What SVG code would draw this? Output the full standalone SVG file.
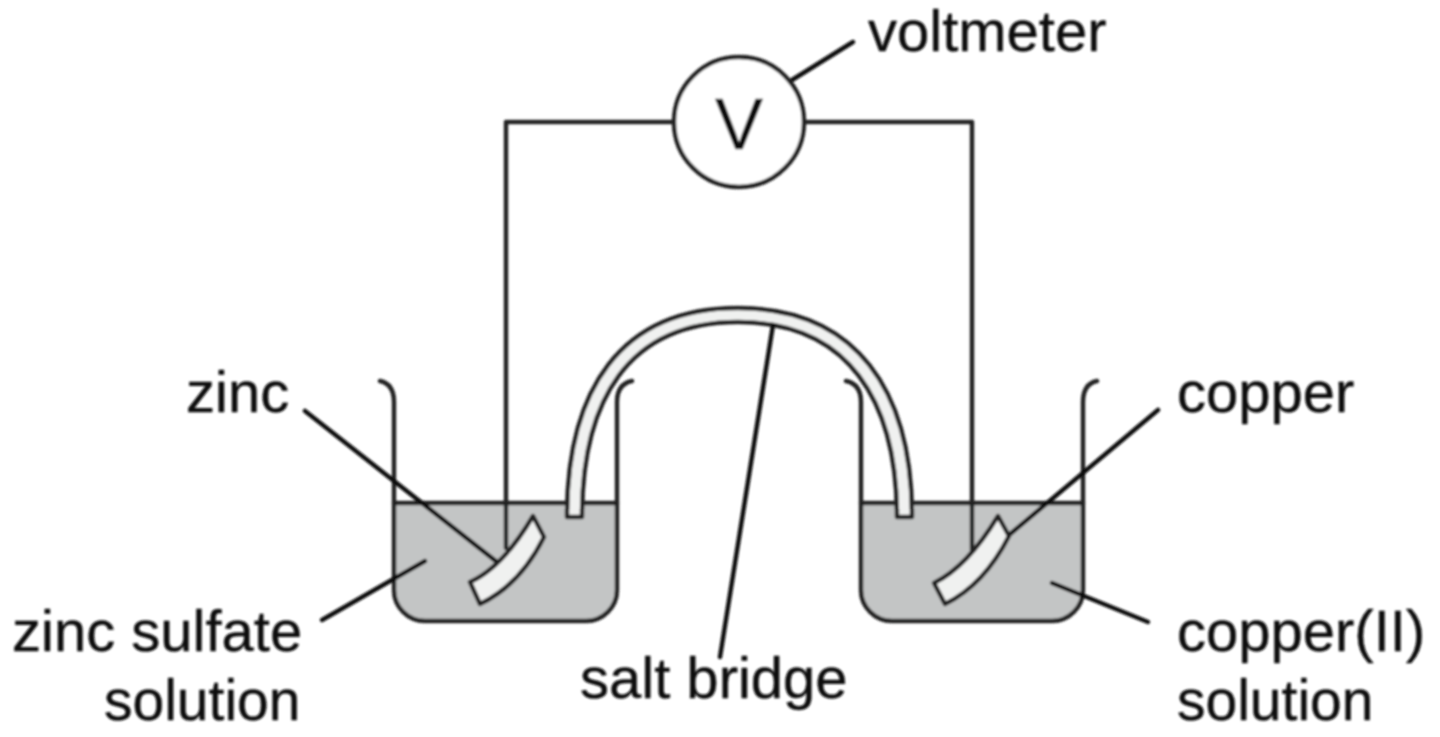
<svg xmlns="http://www.w3.org/2000/svg" width="1440" height="737" viewBox="0 0 1440 737">
<defs><filter id="soft" x="0" y="0" width="1" height="1" filterUnits="objectBoundingBox"><feGaussianBlur stdDeviation="0.8"/></filter></defs>
<style>
.l{fill:none;stroke:#222;stroke-width:4.5;stroke-linecap:round;stroke-linejoin:round}
.p{fill:none;stroke:#111;stroke-width:4.5;stroke-linecap:round}
.liq{fill:#c3c5c5;stroke:none}
.m{fill:#f0f1f0;stroke:#222;stroke-width:4.5;stroke-linejoin:round}
text{font-family:"Liberation Sans",Arial,sans-serif;font-size:58px;fill:#111;stroke:#111;stroke-width:.4}
.s{font-size:57px}
</style>
<rect width="1440" height="737" fill="#fff"/>
<g filter="url(#soft)">
<g id="left-beaker">
<path class="liq" d="M394 503H617V590A31 31 0 0 1 586 621H425A31 31 0 0 1 394 590Z"/>
<path class="l" d="M380 381Q394 384 394 402V590A31 31 0 0 0 425 621H586A31 31 0 0 0 617 590V402Q617 384 632 381"/>
<path class="l" d="M394 503H617"/>
</g>
<g id="right-beaker">
<path class="liq" d="M861 503H1083V590A31 31 0 0 1 1052 621H892A31 31 0 0 1 861 590Z"/>
<path class="l" d="M846 381Q861 384 861 402V590A31 31 0 0 0 892 621H1052A31 31 0 0 0 1083 590V402Q1083 384 1097 381"/>
<path class="l" d="M861 503H1083"/>
</g>
<g id="connectors">
<path class="l" d="M506 548V122H674M804 122H972V550"/>
<path class="p" d="M853 42L792 80"/>
<path class="p" d="M305 411L497 562"/>
<path class="p" d="M322 620L425 561"/>
<path class="p" d="M1158 410L1009 535"/>
<path class="p" d="M1052 583L1148 622"/>
</g>
<g id="voltmeter">
<circle cx="739" cy="122" r="65" fill="#fff" stroke="#222" stroke-width="4.5"/>
<text x="739" y="149" text-anchor="middle" style="font-size:72px">V</text>
</g>
<g id="salt-bridge">
<path class="m" d="M567 517C567 390 620 308 738 308C856 308 912 390 912 517H897C897 400 848 322 738 322C628 322 582 400 582 517Z"/>
</g>
<g id="salt-bridge-pointer">
<path class="p" d="M773 325L720 657"/>
</g>
<g id="zinc-electrode">
<path class="m" d="M470 582Q503 567 533 516L544 537Q520 585 480 604Z"/>
</g>
<g id="copper-electrode">
<path class="m" d="M934 583Q967 567 998 516L1009 536Q984 585 945 604Z"/>
</g>
<g id="labels">
<text x="868" y="51">voltmeter</text>
<text x="186" y="412">zinc</text>
<text x="1177" y="412">copper</text>
<text x="12" y="651">zinc sulfate</text>
<text class="s" x="104" y="720">solution</text>
<text x="580" y="698">salt bridge</text>
<text x="1177" y="651">copper(II)</text>
<text class="s" x="1177" y="720">solution</text>
</g>
</g>
</svg>
